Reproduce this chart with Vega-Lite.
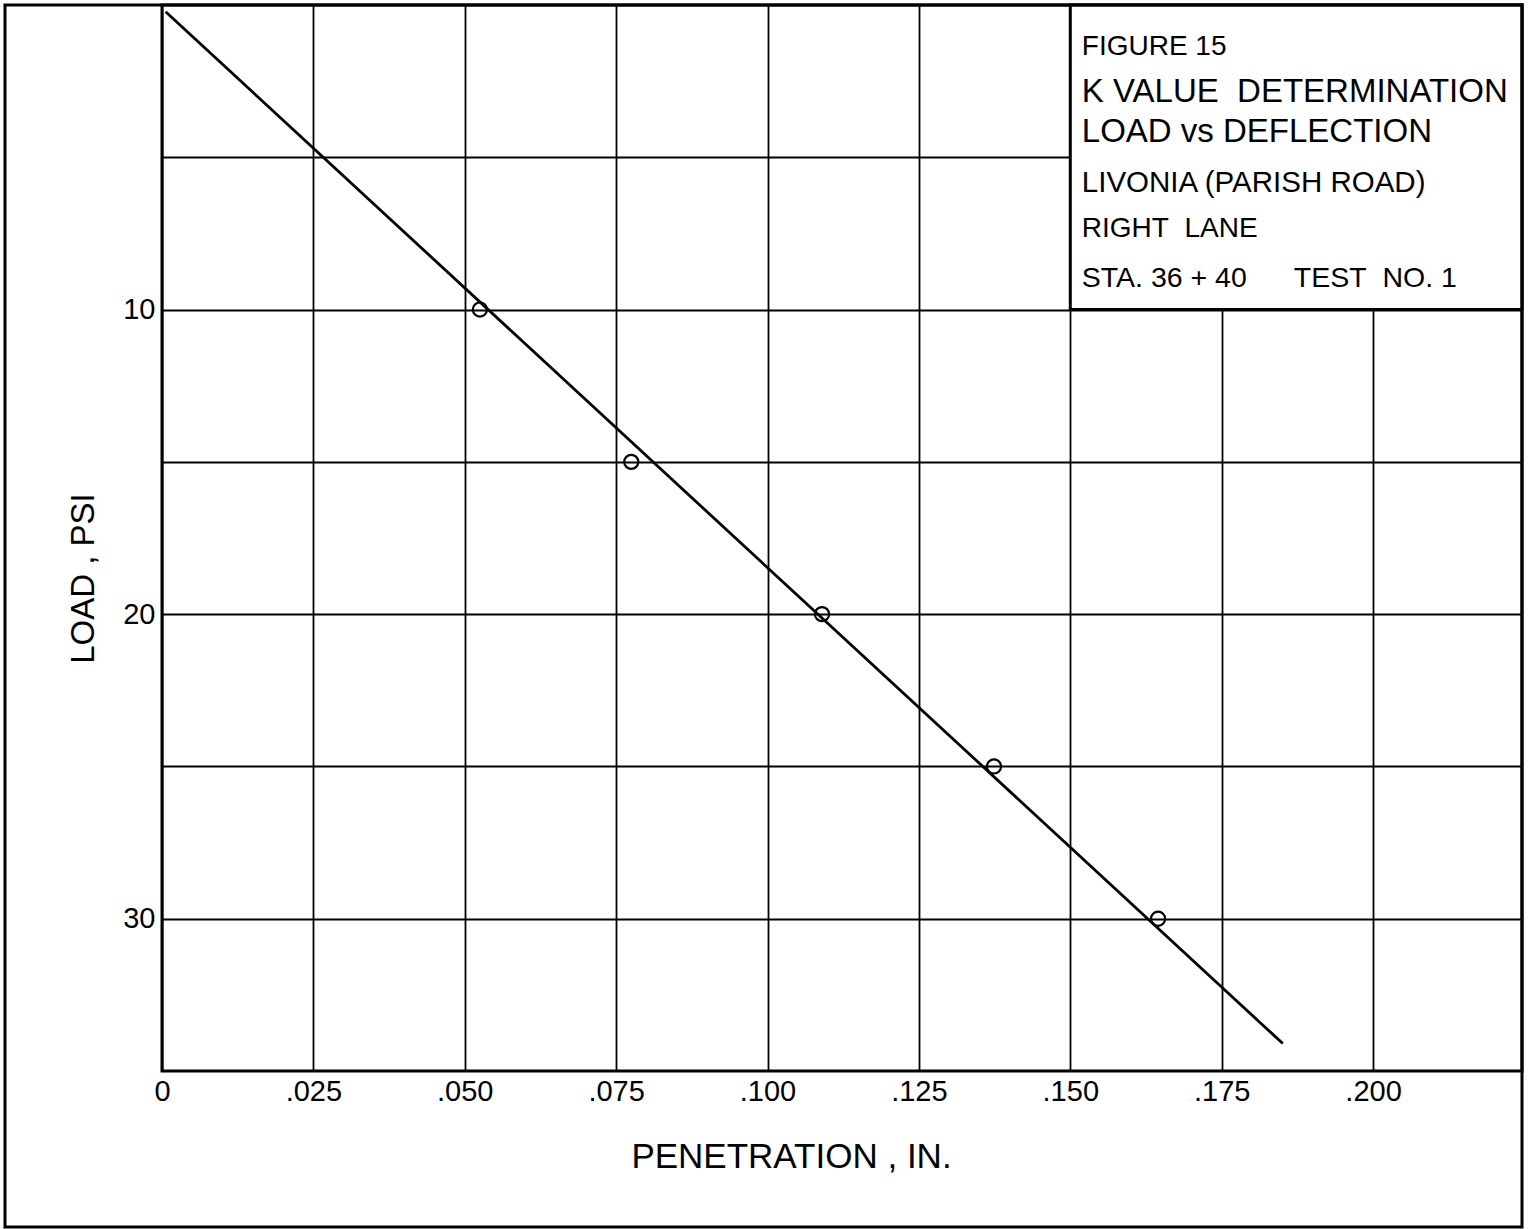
{
  "$schema": "https://vega.github.io/schema/vega-lite/v6.json",
  "width": 1360,
  "height": 1066,
  "autosize": {"type": "none"},
  "padding": {"left": 162, "top": 5, "right": 11, "bottom": 158},
  "background": "white",
  "config": {
    "font": "Liberation Sans",
    "view": {"stroke": "black", "strokeWidth": 3},
    "axis": {
      "domain": false,
      "ticks": false,
      "tickSize": 0,
      "grid": true,
      "gridColor": "black",
      "gridOpacity": 1,
      "gridWidth": 1.8,
      "labelFont": "Liberation Sans",
      "labelFontSize": 29,
      "labelColor": "black",
      "titleFont": "Liberation Sans",
      "titleFontWeight": "normal",
      "titleColor": "black"
    }
  },
  "datasets": {
    "readings": [
      {"penetration": 0.0525, "load": 10},
      {"penetration": 0.0775, "load": 15},
      {"penetration": 0.109, "load": 20},
      {"penetration": 0.1374, "load": 25},
      {"penetration": 0.1645, "load": 30}
    ],
    "fit": [
      {"penetration": 0.0006, "load": 0.22},
      {"penetration": 0.1851, "load": 34.1}
    ],
    "single": [{}]
  },
  "layer": [
    {
      "data": {"name": "fit"},
      "mark": {"type": "line", "color": "black", "strokeWidth": 2.8},
      "encoding": {
        "x": {
          "field": "penetration",
          "type": "quantitative",
          "scale": {"domain": [0, 0.2246], "nice": false, "zero": false},
          "axis": {
            "values": [0, 0.025, 0.05, 0.075, 0.1, 0.125, 0.15, 0.175, 0.2],
            "labelExpr": "datum.value == 0 ? '0' : replace(format(datum.value, '.3f'), '0.', '.')",
            "labelPadding": 29,
            "labelBaseline": "alphabetic",
            "labelFlush": false,
            "labelOverlap": false,
            "title": "PENETRATION , IN.",
            "titleFontSize": 35,
            "titleX": 629,
            "titleY": 96,
            "titleAlign": "center",
            "titleBaseline": "alphabetic"
          }
        },
        "y": {
          "field": "load",
          "type": "quantitative",
          "scale": {"domain": [0, 35], "reverse": true, "nice": false, "zero": false},
          "axis": {
            "values": [5, 10, 15, 20, 25, 30],
            "labelExpr": "datum.value % 10 == 0 ? datum.label : ''",
            "labelPadding": 7,
            "labelBaseline": "middle",
            "labelOverlap": false,
            "title": "LOAD , PSI",
            "titleFontSize": 33,
            "titleAngle": -90,
            "titleX": -69,
            "titleY": 573,
            "titleAlign": "center",
            "titleBaseline": "alphabetic"
          }
        }
      }
    },
    {
      "data": {"name": "readings"},
      "mark": {"type": "point", "shape": "circle", "filled": false, "color": "black", "size": 200, "strokeWidth": 2.2, "opacity": 1},
      "encoding": {
        "x": {"field": "penetration", "type": "quantitative"},
        "y": {"field": "load", "type": "quantitative"}
      }
    },
    {
      "data": {"name": "single"},
      "mark": {"type": "rect", "fill": "white", "stroke": "black", "strokeWidth": 3},
      "encoding": {
        "x": {"datum": 0.15, "type": "quantitative"},
        "x2": {"datum": 0.2246},
        "y": {"datum": 0, "type": "quantitative"},
        "y2": {"datum": 10}
      }
    },
    {
      "data": {"name": "single"},
      "mark": {"type": "rect", "fill": null, "stroke": "black", "strokeWidth": 3, "clip": false},
      "encoding": {
        "x": {"datum": -0.02593, "type": "quantitative"},
        "x2": {"datum": 0.2246},
        "y": {"datum": 0, "type": "quantitative"},
        "y2": {"datum": 40.12}
      }
    },
    {
      "data": {"name": "single"},
      "mark": {"type": "text", "text": "FIGURE 15", "fontSize": 28, "align": "left", "baseline": "alphabetic", "color": "black"},
      "encoding": {
        "x": {"datum": 0.1519, "type": "quantitative"},
        "y": {"datum": 1.64, "type": "quantitative"}
      }
    },
    {
      "data": {"name": "single"},
      "mark": {"type": "text", "text": "K VALUE\u00a0 DETERMINATION", "fontSize": 33, "align": "left", "baseline": "alphabetic", "color": "black"},
      "encoding": {
        "x": {"datum": 0.1519, "type": "quantitative"},
        "y": {"datum": 3.17, "type": "quantitative"}
      }
    },
    {
      "data": {"name": "single"},
      "mark": {"type": "text", "text": "LOAD vs DEFLECTION", "fontSize": 33, "align": "left", "baseline": "alphabetic", "color": "black"},
      "encoding": {
        "x": {"datum": 0.1519, "type": "quantitative"},
        "y": {"datum": 4.5, "type": "quantitative"}
      }
    },
    {
      "data": {"name": "single"},
      "mark": {"type": "text", "text": "LIVONIA (PARISH ROAD)", "fontSize": 29.5, "align": "left", "baseline": "alphabetic", "color": "black"},
      "encoding": {
        "x": {"datum": 0.1519, "type": "quantitative"},
        "y": {"datum": 6.14, "type": "quantitative"}
      }
    },
    {
      "data": {"name": "single"},
      "mark": {"type": "text", "text": "RIGHT\u00a0 LANE", "fontSize": 28, "align": "left", "baseline": "alphabetic", "color": "black"},
      "encoding": {
        "x": {"datum": 0.1519, "type": "quantitative"},
        "y": {"datum": 7.62, "type": "quantitative"}
      }
    },
    {
      "data": {"name": "single"},
      "mark": {"type": "text", "text": "STA. 36 + 40\u00a0\u00a0\u00a0\u00a0\u00a0 TEST\u00a0 NO. 1", "fontSize": 28.5, "align": "left", "baseline": "alphabetic", "color": "black"},
      "encoding": {
        "x": {"datum": 0.1519, "type": "quantitative"},
        "y": {"datum": 9.26, "type": "quantitative"}
      }
    }
  ]
}
